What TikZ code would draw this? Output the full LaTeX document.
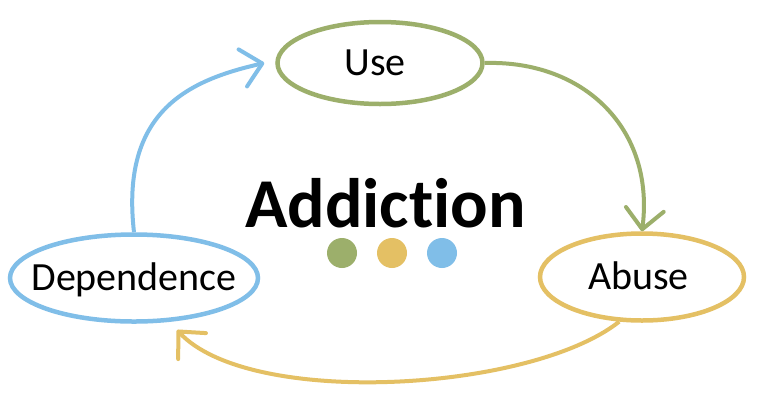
\documentclass[tikz,border=0pt]{standalone}
\usepackage{fontspec}
\setmainfont{Carlito}[Ligatures=NoCommon]
\usetikzlibrary{shapes.geometric,arrows.meta}
\definecolor{cgreen}{HTML}{9CAF6B}
\definecolor{cyellow}{HTML}{E4C064}
\definecolor{cblue}{HTML}{80BEE8}
\begin{document}
\begin{tikzpicture}[x=1bp,y=-1bp,
  stage/.style={ellipse, draw, line width=4.5bp, inner sep=0pt,
    font=\fontsize{40bp}{48bp}\selectfont, text height=26bp, text depth=2bp},
  flow/.style={line width=4bp, -{Straight Barb[length=20bp,width=38bp,round]}},
  dot/.style={circle, minimum size=30bp, inner sep=0pt}]
\fill[white] (0,0) rectangle (773,405);
\useasboundingbox (0,0) rectangle (773,405);
\node[stage, draw=cgreen, minimum width=205bp, minimum height=82bp] (use) at (380,63) {\makebox[0pt]{\hspace{-10bp}Use}};
\node[stage, draw=cyellow, minimum width=204bp, minimum height=87bp] (abuse) at (642,277) {\makebox[0pt]{\hspace{-7bp}Abuse}};
\node[stage, draw=cblue, minimum width=248bp, minimum height=87bp] (dep) at (134,278) {\makebox[0pt]{Dependence}};
\node[font=\fontsize{70bp}{80bp}\selectfont\bfseries, anchor=base, inner sep=0pt] (title) at (385.5,227) {Addiction};
\node[dot, fill=cgreen] (d1) at (342,253) {};
\node[dot, fill=cyellow] (d2) at (392,253) {};
\node[dot, fill=cblue] (d3) at (442,253) {};
\draw[flow, cgreen] (use.east) .. controls (585,60) and (655,130) .. (abuse.north);
\draw[flow, cyellow] (abuse.243) .. controls (530,392) and (250,408) .. ([yshift=-9bp]dep.315);
\draw[flow, cblue] (dep.north) .. controls (120,110) and (190,80) .. ([xshift=-11bp]use.west);
\end{tikzpicture}
\end{document}
